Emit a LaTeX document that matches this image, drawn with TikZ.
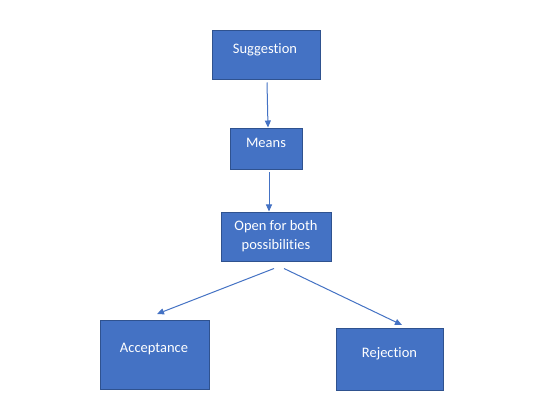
\documentclass[tikz,border=0pt]{standalone}
\usepackage{fontspec}
\setmainfont[Ligatures={NoCommon}]{Carlito}
\usetikzlibrary{arrows.meta,calc}
\definecolor{boxfill}{HTML}{4472C4}
\definecolor{boxline}{HTML}{2F528F}
\begin{document}
\begin{tikzpicture}[x=1pt,y=-1pt,
  box/.style={draw=boxline,fill=boxfill,line width=1pt,rectangle,inner sep=0pt},
  lbl/.style={text=white,font=\fontsize{14.5}{19}\selectfont,align=center,inner sep=0pt},
  arr/.style={draw=boxfill,line width=1pt,-{Triangle[length=7pt,width=6pt]}}]
\useasboundingbox[fill=white] (0,0) rectangle (550,401);
\node[box,minimum width=108pt,minimum height=49pt] (sug) at (266,55.5) {};
\node[lbl] (sugt) at (265,50) {Suggestion};
\node[box,minimum width=72pt,minimum height=41pt] (means) at (266,149.5) {};
\node[lbl] (meanst) at (266,143) {Means};
\node[box,minimum width=110pt,minimum height=49pt] (open) at (276,237.5) {};
\node[lbl] (opent) at (276,236.5) {Open for both\\possibilities};
\node[box,minimum width=109pt,minimum height=69pt] (acc) at (154.5,355.5) {};
\node[lbl] (acct) at (154,349) {Acceptance};
\node[box,minimum width=107pt,minimum height=62pt] (rej) at (389.5,360) {};
\node[lbl] (rejt) at (389.5,354) {Rejection};
\coordinate (s1) at ($(sug.south)+(1,2)$);
\coordinate (m1) at ($(means.north)+(2,-1)$);
\coordinate (m2) at ($(means.south)+(3,2)$);
\coordinate (o1) at ($(open.north)+(-7,-1)$);
\coordinate (o2) at ($(open.south)+(-2,6)$);
\coordinate (o3) at ($(open.south)+(8,6)$);
\coordinate (a1) at (157,314);
\coordinate (r1) at (402,325);
\draw[arr] (s1) -- (m1);
\draw[arr] (m2) -- (o1);
\draw[arr] (o2) -- (a1);
\draw[arr] (o3) -- (r1);
\end{tikzpicture}
\end{document}
